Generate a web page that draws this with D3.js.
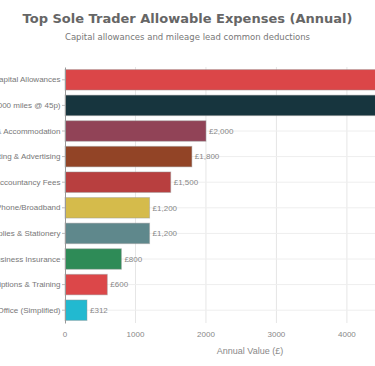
<!DOCTYPE html>
<html>
<head>
<meta charset="utf-8">
<script src="https://cdn.jsdelivr.net/npm/d3@7"></script>
<style>
  body { margin: 0; background: #fff; overflow: hidden; }
  svg { display: block; }
</style>
</head>
<body>
<div id="chart"></div>
<script>
// expense categories, top to bottom
var categories = [
  "Capital Allowances",
  "Mileage (10,000 miles @ 45p)",
  "Travel & Accommodation",
  "Marketing & Advertising",
  "Accountancy Fees",
  "Phone/Broadband",
  "Supplies & Stationery",
  "Business Insurance",
  "Subscriptions & Training",
  "Home Office (Simplified)"
];
var values = [5000, 4500, 2000, 1800, 1500, 1200, 1200, 800, 600, 312];
var colors = ["#db4648", "#17353e", "#914357", "#924426", "#b83f3f",
              "#d5bb4b", "#5f888c", "#2e8b57", "#dc4749", "#22b9d0"];
var xTicks = [0, 1000, 2000, 3000, 4000, 5000];

var width = 375, height = 366;
var svg = d3.select("#chart").append("svg")
  .attr("width", width)
  .attr("height", height);

var x = d3.scaleLinear().domain([0, 5250]).range([65, 435]);
var y = d3.scaleBand().domain(categories).range([67, 323])
  .paddingInner(0.2).paddingOuter(0.1);

// title + subtitle
svg.append("text")
  .attr("x", width / 2).attr("y", 23)
  .attr("text-anchor", "middle")
  .style("font-family", "DejaVu Sans").style("font-weight", "bold")
  .style("font-size", "13px").style("fill", "#666")
  .text("Top Sole Trader Allowable Expenses (Annual)");
svg.append("text")
  .attr("x", width / 2).attr("y", 40)
  .attr("text-anchor", "middle")
  .style("font-family", "DejaVu Sans")
  .style("font-size", "8.5px").style("fill", "#777")
  .text("Capital allowances and mileage lead common deductions");

// gridlines
svg.append("g").selectAll("line.vg")
  .data(xTicks.slice(1))
  .enter().append("line")
  .attr("x1", d => x(d)).attr("x2", d => x(d))
  .attr("y1", 67).attr("y2", 323)
  .style("stroke", "#e6e6e6").style("stroke-width", 1);
svg.append("g").selectAll("line.hg")
  .data(categories)
  .enter().append("line")
  .attr("x1", 65).attr("x2", 435)
  .attr("y1", d => y(d) + y.bandwidth() / 2)
  .attr("y2", d => y(d) + y.bandwidth() / 2)
  .style("stroke", "#eeeeee").style("stroke-width", 1);

// bars
svg.append("g").selectAll("rect")
  .data(values)
  .enter().append("rect")
  .attr("x", x(0))
  .attr("y", (d, i) => y(categories[i]))
  .attr("width", d => x(d) - x(0))
  .attr("height", y.bandwidth())
  .style("fill", (d, i) => colors[i])
  .style("stroke", "rgba(150,150,150,0.45)")
  .style("stroke-width", 1);

// value labels
svg.append("g").selectAll("text")
  .data(values)
  .enter().append("text")
  .attr("x", d => x(d) + 3)
  .attr("y", (d, i) => y(categories[i]) + y.bandwidth() / 2)
  .attr("dy", "0.35em")
  .style("font-family", "Liberation Sans").style("font-size", "8px")
  .style("fill", "#888")
  .text(d => "£" + d3.format(",")(d));

// y axis
var yAxis = svg.append("g")
  .attr("transform", "translate(65,0)")
  .call(d3.axisLeft(y).tickSize(3).tickPadding(1.5).tickSizeOuter(0));
yAxis.select(".domain").style("stroke", "#999");
yAxis.selectAll(".tick line").style("stroke", "#bbb");
yAxis.selectAll(".tick text")
  .style("font-family", "Liberation Sans").style("font-size", "8px")
  .style("fill", "#777");

// x tick labels
svg.append("g").selectAll("text")
  .data(xTicks)
  .enter().append("text")
  .attr("x", d => x(d)).attr("y", 337)
  .attr("text-anchor", "middle")
  .style("font-family", "Liberation Sans").style("font-size", "8px")
  .style("fill", "#888")
  .text(d => d);

svg.append("text")
  .attr("x", (x.range()[0] + x.range()[1]) / 2).attr("y", 354)
  .attr("text-anchor", "middle")
  .style("font-family", "Liberation Sans").style("font-size", "9px")
  .style("fill", "#888")
  .text("Annual Value (£)");
</script>
</body>
</html>
